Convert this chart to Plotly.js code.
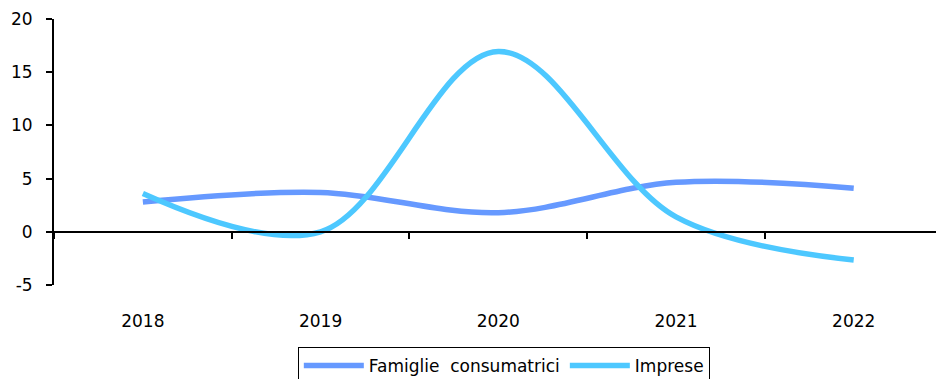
<!DOCTYPE html>
<html>
<head>
<meta charset="utf-8">
<script src="https://cdn.plot.ly/plotly-3.0.1.min.js"></script>
<style>html,body{margin:0;padding:0;background:#fff;}#chart{width:936px;height:379px;}</style>
</head>
<body>
<div id="chart"></div>
<script>
const years = ["2018", "2019", "2020", "2021", "2022"];
const famiglie = [2.8, 3.7, 1.8, 4.65, 4.1];
const imprese = [3.6, 0.0, 16.95, 1.4, -2.65];
const seriesNames = ["Famiglie  consumatrici", "Imprese"];
const yTicks = [-5, 0, 5, 10, 15, 20];
const yTickText = ["-5", "0", "5", "10", "15", "20"];

const font = {family: "DejaVu Sans, Verdana, sans-serif", size: 17, color: "#000"};

const traces = [
  {x: years, y: famiglie, name: seriesNames[0], type: "scatter", mode: "lines",
   line: {color: "#6699ff", width: 5.5, shape: "spline", smoothing: 1}, hoverinfo: "skip"},
  {x: years, y: imprese, name: seriesNames[1], type: "scatter", mode: "lines",
   line: {color: "#4dc8ff", width: 5.5, shape: "spline", smoothing: 1}, hoverinfo: "skip"},
  {x: years, y: years.map(() => null), xaxis: "x2", yaxis: "y", showlegend: false,
   mode: "lines", hoverinfo: "skip"}
];

const xRange = [-0.5, 4.463];
const layout = {
  width: 936, height: 379,
  margin: {l: 54, r: 0, t: 19, b: 94, autoexpand: false},
  paper_bgcolor: "#fff", plot_bgcolor: "#fff",
  font: font,
  showlegend: true,
  xaxis: {type: "category", categoryarray: years, range: xRange, showline: false,
          ticks: "", showgrid: false, zeroline: false, tickfont: font, ticklabelstandoff: 24,
          automargin: false},
  xaxis2: {type: "category", categoryarray: years, range: xRange, overlaying: "x",
           anchor: "free", position: 0.2, side: "bottom", showline: true, linecolor: "#000",
           linewidth: 2, ticks: "outside", tickson: "boundaries", ticklen: 6, tickwidth: 2,
           tickcolor: "#000", showticklabels: false, showgrid: false, zeroline: false},
  yaxis: {range: [-5, 20], tickvals: yTicks, ticktext: yTickText, showline: true,
          linecolor: "#000", linewidth: 2,
          ticks: "outside", ticklen: 6, tickwidth: 2, tickcolor: "#000", showgrid: false,
          zeroline: false, tickfont: font, ticklabelstandoff: 10, automargin: false},
  legend: {orientation: "h", x: 0.51, xanchor: "center", y: -0.233, yanchor: "top",
           bordercolor: "#000", borderwidth: 1, font: font, itemwidth: 60,
           bgcolor: "#fff"}
};

Plotly.newPlot("chart", traces, layout, {staticPlot: true});
</script>
</body>
</html>
